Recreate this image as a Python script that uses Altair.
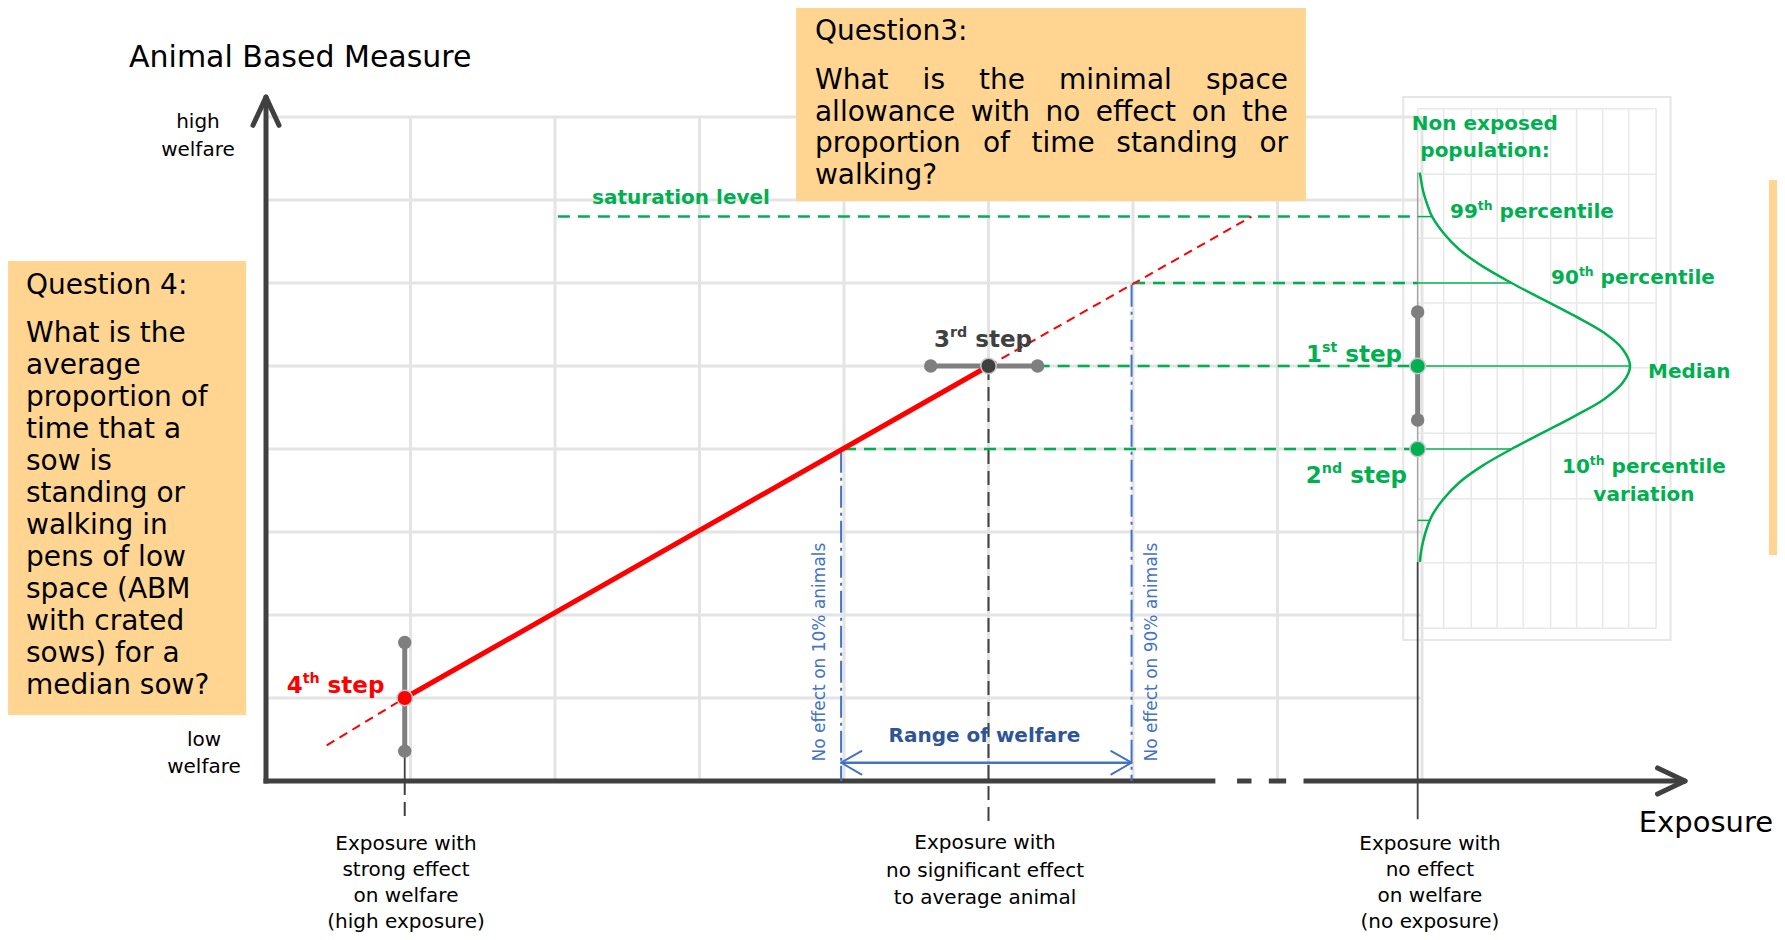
import altair as alt
import pandas as pd

# ---------------- frame: diagram units -> pixels ----------------
W, H = 1769, 924
UX, UY = 144.5, 83.0                 # pixels per diagram unit
XMIN = -258 / UX
XMAX = XMIN + W / UX
YMAX = 773 / UY
YMIN = YMAX - H / UY
XS = alt.Scale(domain=[XMIN, XMAX], nice=False, zero=False)
YS = alt.Scale(domain=[YMIN, YMAX], nice=False, zero=False)

# ---------------- values (diagram units) ----------------
grid_lines = [1, 2, 3, 4, 5, 6, 7, 8]
grid_extent = 8

panel_cols = [7.97, 8.15, 8.34, 8.52, 8.70, 8.89, 9.07, 9.25, 9.43, 9.62]
panel_rows = [8.10, 7.31, 6.54, 5.76, 4.98, 4.19, 3.40, 2.63, 1.84]
panel_frame = [7.87, 9.72, 1.70, 8.24]

curve_base = 7.97
curve_y = [7.33, 7.1, 6.9, 6.8, 6.6, 6.4, 6.2, 6.0, 5.8, 5.6, 5.4, 5.2, 5.0,
           4.8, 4.6, 4.4, 4.2, 4.0, 3.8, 3.6, 3.4, 3.2, 3.0, 2.8, 2.64]
curve_dx = [0.015, 0.039, 0.076, 0.10, 0.18, 0.29, 0.45, 0.65, 0.87, 1.09, 1.29, 1.42, 1.47,
            1.42, 1.29, 1.09, 0.87, 0.65, 0.45, 0.29, 0.18, 0.10, 0.055, 0.027, 0.015]

level_names = ["99th", "90th", "Median", "10th", "1st"]
level_y = [6.8, 6.0, 5.0, 4.0, 3.14]
level_curve_dx = [0.10, 0.65, 1.47, 0.65, 0.09]
dash_start = [2.02, 6.0, 5.34, 4.0]          # green dashed guides for first four levels

step4 = (0.96, 1.0)
step3 = (5.0, 5.0)
step1 = (7.97, 5.0)
step2 = (7.97, 4.0)
step4_bar = (0.36, 1.67)
step3_bar = (4.6, 5.34)
step1_bar = (4.35, 5.65)
red_low_end = (0.42, 0.43)
red_high_end = (6.82, 6.8)
no_effect_10 = 3.98
no_effect_90 = 5.99
range_arrow_y = 0.22

x_axis_pieces = [(-0.017, 6.57), (6.72, 6.82), (6.94, 7.06), (7.18, 9.78)]
x_axis_tip = 9.82
y_axis_tip = 8.24

boxes = {  # x, x2, y, y2
    "q3": (3.668, 7.197, 9.349, 6.988),
    "q4": (-1.785, -0.138, 6.265, 0.795),
    "right": (10.401, 10.46, 7.241, 2.723),
}

title_text = "Animal Based Measure"
exposure_text = "Exposure"
q3_title = "Question3:"
q3_lines = ["What is the minimal space", "allowance with no effect on the",
            "proportion of time standing or", "walking?"]
q4_title = "Question 4:"
q4_lines = ["What is the", "average", "proportion of", "time that a", "sow is",
            "standing or", "walking in", "pens of low", "space (ABM", "with crated",
            "sows) for a", "median sow?"]
bottom_labels = [
    ["Exposure with", "strong effect", "on welfare", "(high exposure)"],
    ["Exposure with", "no significant effect", "to average animal"],
    ["Exposure with", "no effect", "on welfare", "(no exposure)"],
]
bottom_x = [0.969, 4.976, 8.055]
bottom_y = [[-0.831, -1.145, -1.458, -1.771], [-0.819, -1.151, -1.482],
            [-0.831, -1.145, -1.458, -1.771]]

GREEN, RED, BLUE, DBLUE = "#00b050", "#ff0000", "#4472c4", "#2f5597"
DARK, GRAY, ORANGE, GRID = "#404040", "#7f7f7f", "#ffd591", "#e4e4e4"

# ---------------- text metrics (DejaVu Sans, em units) ----------------
REG = {' ': .318, '?': .531, ':': .337, '(': .390, ')': .390, '%': .950,
       'A': .684, 'B': .686, 'M': .863, 'E': .632, 'N': .748, 'Q': .787, 'W': .989,
       'a': .613, 'b': .635, 'c': .550, 'd': .635, 'e': .615, 'f': .352, 'g': .635,
       'h': .634, 'i': .278, 'j': .278, 'k': .579, 'l': .278, 'm': .974, 'n': .634,
       'o': .612, 'p': .635, 'q': .635, 'r': .411, 's': .521, 't': .392, 'u': .634,
       'v': .592, 'w': .818, 'x': .592, 'y': .592, 'z': .525}
BOLD = {' ': .348, ':': .400, 'N': .837, 'M': .995, 'R': .770,
        'a': .675, 'b': .716, 'c': .593, 'd': .716, 'e': .678, 'f': .435, 'g': .716,
        'h': .712, 'i': .343, 'l': .343, 'm': 1.042, 'n': .712, 'o': .687, 'p': .716,
        'r': .493, 's': .595, 't': .478, 'u': .712, 'v': .652, 'w': .924, 'x': .663,
        'y': .652}


def tw(s, size, bold):
    tbl = BOLD if bold else REG
    out = 0
    for ch in s:
        if ch.isdigit():
            out += .696 if bold else .636
        else:
            out += tbl.get(ch, .65 if bold else .6)
    return out * size


def enc(ch):
    return ch.encode(x=alt.X("x:Q", scale=XS, axis=None),
                     y=alt.Y("y:Q", scale=YS, axis=None))


def seg(rows, color, width, dash=None, cap="butt"):
    df = pd.DataFrame(rows, columns=["x", "y", "x2", "y2"])
    kw = dict(color=color, strokeWidth=width, strokeCap=cap)
    if dash:
        kw["strokeDash"] = dash
    return alt.Chart(df).mark_rule(**kw).encode(
        x=alt.X("x:Q", scale=XS, axis=None), y=alt.Y("y:Q", scale=YS, axis=None),
        x2="x2:Q", y2="y2:Q")


def rects(rows, **kw):
    df = pd.DataFrame(rows, columns=["x", "x2", "y", "y2"])
    return alt.Chart(df).mark_rect(**kw).encode(
        x=alt.X("x:Q", scale=XS, axis=None), y=alt.Y("y:Q", scale=YS, axis=None),
        x2="x2:Q", y2="y2:Q")


def dots(rows, size, stroke=None):
    df = pd.DataFrame(rows, columns=["x", "y", "c"])
    kw = dict(size=size, opacity=1)
    if stroke:
        kw.update(stroke=stroke, strokeWidth=1.5)
    return enc(alt.Chart(df).mark_circle(**kw)).encode(color=alt.Color("c:N", scale=None))


def texts(rows, bold=False, align="left", baseline="alphabetic", angle=0):
    df = pd.DataFrame(rows, columns=["x", "y", "t", "fs", "c"])
    return enc(alt.Chart(df).mark_text(font="DejaVu Sans",
                                       fontWeight="bold" if bold else "normal",
                                       align=align, baseline=baseline, angle=angle)).encode(
        text="t:N", size=alt.Size("fs:Q", scale=None), color=alt.Color("c:N", scale=None))


def run_rows(parts, x, y, fs, color, align="left"):
    """parts: list of (text, superscript?) drawn in bold, spaces measured not drawn"""
    sizes = [fs * 0.62 if sup else fs for _, sup in parts]
    widths = [tw(t, s, True) for (t, _), s in zip(parts, sizes)]
    total = sum(widths)
    off = {"left": 0, "center": -total / 2, "right": -total}[align]
    rows, cur = [], off
    for (t, sup), s, w in zip(parts, sizes, widths):
        if t.strip():
            lead = tw(t[:len(t) - len(t.lstrip())], s, True)
            rows.append((x + (cur + lead) / UX, y + (0.42 * fs / UY if sup else 0),
                         t.strip(), s, color))
        cur += w
    return rows


layers = []

# grid
layers.append(seg([(g, 0, g, grid_extent) for g in grid_lines] +
                  [(0, g, grid_extent, g) for g in grid_lines], GRID, 3))
# small panel grid
layers.append(seg([(c, panel_rows[-1], c, panel_rows[0]) for c in panel_cols] +
                  [(panel_cols[0], r, panel_cols[-1], r) for r in panel_rows], "#e8e8e8", 1.5))
layers.append(rects([tuple(panel_frame)], fill="white", fillOpacity=0, stroke="#e6e6e6", strokeWidth=2))

# orange boxes
layers.append(rects(list(boxes.values()), fill=ORANGE))

# axes
layers.append(seg([(a, 0, b, 0) for a, b in x_axis_pieces] + [(0, -0.03, 0, y_axis_tip - 0.06)],
                  DARK, 5))
layers.append(seg([(-0.09, 7.9, 0, y_axis_tip), (0.09, 7.9, 0, y_axis_tip),
                   (9.63, 0.157, x_axis_tip, 0), (9.63, -0.157, x_axis_tip, 0)],
                  DARK, 5, cap="round"))

# blue no-effect lines and range arrow
layers.append(seg([(no_effect_10, 3.98, no_effect_10, 0.0),
                   (no_effect_90, 5.98, no_effect_90, 0.0)], BLUE, 2, dash=[22, 5, 3, 5]))
layers.append(seg([(no_effect_10, range_arrow_y, no_effect_90, range_arrow_y)], BLUE, 2.5))
layers.append(seg([(no_effect_10 + 0.14, range_arrow_y + 0.14, no_effect_10, range_arrow_y),
                   (no_effect_10 + 0.14, range_arrow_y - 0.14, no_effect_10, range_arrow_y),
                   (no_effect_90 - 0.14, range_arrow_y + 0.14, no_effect_90, range_arrow_y),
                   (no_effect_90 - 0.14, range_arrow_y - 0.14, no_effect_90, range_arrow_y)],
                  BLUE, 2, cap="round"))

# black dashed / thin verticals
layers.append(seg([(step3[0], step3[1], step3[0], -0.49), (step4[0], 0.0, step4[0], -0.47)],
                  DARK, 2, dash=[14, 7]))
layers.append(seg([(step4[0], step4_bar[0], step4[0], 0.0),
                   (curve_base, curve_y[-1], curve_base, -0.46)], DARK, 1.8))
layers.append(seg([(curve_base, curve_y[-1], curve_base, curve_y[0])], "#a6a6a6", 1.5))

# green guides
layers.append(seg([(s, level_y[i], curve_base, level_y[i]) for i, s in enumerate(dash_start)],
                  GREEN, 2.5, dash=[12, 8]))
layers.append(seg([(curve_base, ly, curve_base + d, ly) for ly, d in zip(level_y, level_curve_dx)],
                  GREEN, 1.5))

# distribution curve
curve_df = pd.DataFrame({"x": [curve_base + d for d in curve_dx], "y": curve_y,
                         "i": list(range(len(curve_y)))})
layers.append(enc(alt.Chart(curve_df).mark_line(color=GREEN, strokeWidth=2.5,
                                                interpolate="catmull-rom")).encode(
    order=alt.Order("i:Q")))

# red response line
layers.append(seg([(red_low_end[0], red_low_end[1], step4[0], step4[1]),
                   (step3[0], step3[1], red_high_end[0], red_high_end[1])], RED, 2, dash=[9, 6]))
layers.append(seg([(step4[0], step4[1], step3[0], step3[1])], RED, 5, cap="round"))

# gray step bars
layers.append(seg([(step4[0], step4_bar[0], step4[0], step4_bar[1]),
                   (step3_bar[0], step3[1], step3_bar[1], step3[1]),
                   (step1[0], step1_bar[0], step1[0], step1_bar[1])], GRAY, 5))
layers.append(dots([(step4[0], step4_bar[0], GRAY), (step4[0], step4_bar[1], GRAY),
                    (step3_bar[0], step3[1], GRAY), (step3_bar[1], step3[1], GRAY),
                    (step1[0], step1_bar[0], GRAY), (step1[0], step1_bar[1], GRAY)], 180))
layers.append(dots([(step4[0], step4[1], RED), (step3[0], step3[1], DARK),
                    (step1[0], step1[1], GREEN), (step2[0], step2[1], GREEN)], 240,
                   stroke="#c9c9c9"))

# ---------------- texts ----------------
reg_left = [(-0.948, 8.602, title_text, 30, "#000"),
            (9.50, -0.614, exposure_text, 29, "#000"),
            (3.799, 8.928, q3_title, 28, "#000"),
            (-1.661, 5.867, q4_title, 28, "#000")]
for i, line in enumerate(q4_lines):
    reg_left.append((-1.661, 5.289 - i * 32 / UY, line, 28, "#000"))
q3_left, q3_right = 3.799, 7.073
for i, line in enumerate(q3_lines):
    yb = 8.337 - i * 31.5 / UY
    words = line.split()
    if i == len(q3_lines) - 1 or len(words) == 1:
        reg_left.append((q3_left, yb, line, 28, "#000"))
        continue
    wds = [tw(w, 28, False) / UX for w in words]
    gap = (q3_right - q3_left - sum(wds)) / (len(words) - 1)
    xcur = q3_left
    for w, wd in zip(words, wds):
        reg_left.append((xcur, yb, w, 28, "#000"))
        xcur += wd + gap
layers.append(texts(reg_left))

reg_center = [(-0.471, 7.867, "high", 20, "#000"), (-0.471, 7.530, "welfare", 20, "#000"),
              (-0.429, 0.422, "low", 20, "#000"), (-0.429, 0.096, "welfare", 20, "#000")]
for bx, lines, ys in zip(bottom_x, bottom_labels, bottom_y):
    for line, yb in zip(lines, ys):
        reg_center.append((bx, yb, line, 20, "#000"))
layers.append(texts(reg_center, align="center"))

layers.append(texts([(3.834, 1.554, "No effect on 10% animals", 17, BLUE),
                     (6.131, 1.554, "No effect on 90% animals", 17, BLUE)],
                    align="center", baseline="middle", angle=270))

bold_left = []
bold_left += run_rows([("99", False), ("th", True), (" percentile", False)], 8.194, 6.783, 20, GREEN)
bold_left += run_rows([("90", False), ("th", True), (" percentile", False)], 8.893, 5.988, 20, GREEN)
bold_left += run_rows([("10", False), ("th", True), (" percentile", False)], 8.969, 3.711, 20, GREEN)
bold_left += run_rows([("Median", False)], 9.564, 4.855, 20, GREEN)
bold_left += run_rows([("variation", False)], 9.536, 3.373, 20, GREEN, "center")
bold_left += run_rows([("Non exposed", False)], 8.436, 7.843, 20, GREEN, "center")
bold_left += run_rows([("population:", False)], 8.436, 7.518, 20, GREEN, "center")
bold_left += run_rows([("saturation level", False)], 2.872, 6.952, 20, GREEN, "center")
bold_left += run_rows([("1", False), ("st", True), (" step", False)], 7.862, 5.048, 23, GREEN, "right")
bold_left += run_rows([("2", False), ("nd", True), (" step", False)], 7.896, 3.590, 23, GREEN, "right")
bold_left += run_rows([("3", False), ("rd", True), (" step", False)], 4.962, 5.229, 23, DARK, "center")
bold_left += run_rows([("4", False), ("th", True), (" step", False)], 0.481, 1.060, 23, RED, "center")
bold_left += run_rows([("Range of welfare", False)], 4.972, 0.470, 20, DBLUE, "center")
layers.append(texts(bold_left, bold=True))

chart = alt.layer(*layers).properties(
    width=W, height=H, padding=0, autosize=alt.AutoSizeParams(type="none")
).configure_view(strokeWidth=0)

chart.save("out.html", embed_options={"renderer": "svg", "actions": False})
